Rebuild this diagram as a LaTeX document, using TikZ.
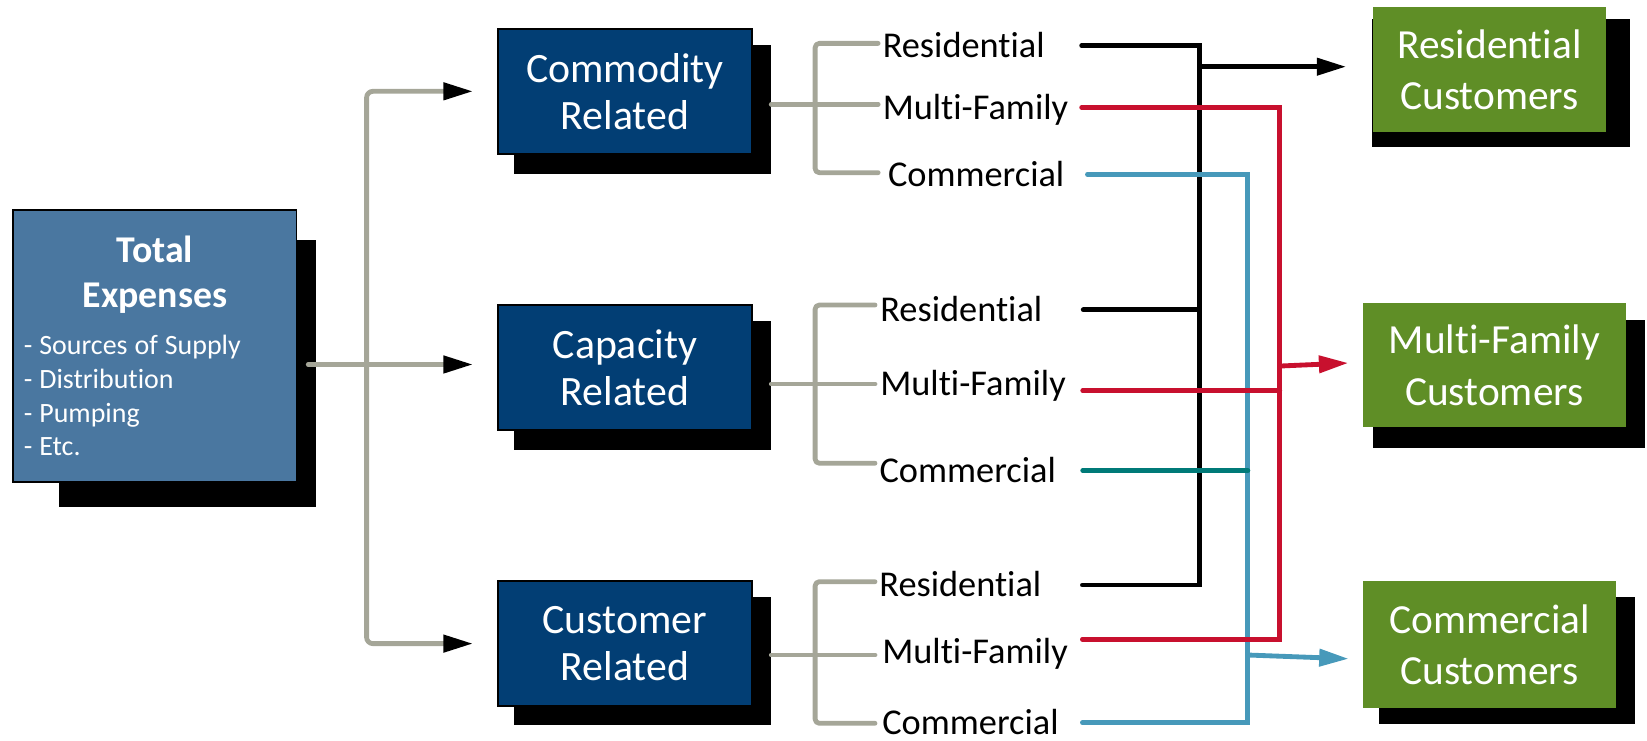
\documentclass[tikz,border=0pt]{standalone}
\usepackage{fontspec}
\setmainfont{Carlito}[Ligatures={NoCommon}]
\usetikzlibrary{arrows.meta,calc,backgrounds}
\definecolor{navy}{HTML}{023E74}
\definecolor{steel}{HTML}{4A77A0}
\definecolor{leaf}{HTML}{5F8E26}
\definecolor{crim}{HTML}{C8102E}
\definecolor{sky}{HTML}{4799BA}
\definecolor{tealc}{HTML}{007A78}
\definecolor{grayc}{HTML}{A5A698}
\begin{document}
\begin{tikzpicture}[x=0.5pt,y=-0.5pt,
  midbox/.style={draw=black, line width=0.8pt, fill=navy, text=white, minimum width=121pt,
    minimum height=59.6pt, inner sep=0pt, align=center, font=\fontsize{19.9pt}{22.2pt}\selectfont},
  custbox/.style={fill=leaf, text=white, inner sep=0pt, align=center, font=\fontsize{19.7pt}{24.5pt}\selectfont},
  totbox/.style={draw=black, line width=0.8pt, fill=steel, text=white, text width=124.85pt,
    inner xsep=5pt, inner ysep=0pt, minimum height=129.3pt, align=left},
  lbl/.style={inner sep=0pt, anchor=west, text height=11.1pt, text depth=0pt,
    font=\fontsize{17.3pt}{20pt}\selectfont, align=left},
  gline/.style={draw=grayc, line width=2.3pt, line cap=round, line join=round, rounded corners=2pt},
  garr/.style={draw=grayc, line width=2.3pt, line join=round, rounded corners=3pt,
    -{Triangle[length=14pt,width=8pt,color=black]}, shorten >=11.5pt},
  cline/.style={line width=2.3pt, line cap=round, line join=miter},
  carr/.style={line width=2.3pt, -{Triangle[length=14pt,width=8pt]}},
  shadowfill/.style={fill=black}
]
\useasboundingbox (0,0) rectangle (1568,705);

% boxes
\node[totbox] (total) at (147.55,329.3) {{\centering\fontsize{18pt}{21.3pt}\bfseries\selectfont Total\\Expenses\par}\vspace{6.7pt}{\fontsize{13.3pt}{16pt}\selectfont - Sources of Supply\\- Distribution\\- Pumping\\- Etc.\par}};
\node[midbox] (comm) at (595,86.95) {Commodity\\Related};
\node[midbox] (capa) at (595,349.9) {Capacity\\Related};
\node[midbox] (cust) at (595,612.75) {Customer\\Related};
\node[custbox, minimum width=111.3pt, minimum height=59.2pt] (rc) at (1418,66.2) {Residential\\Customers};
\node[custbox, minimum width=125.1pt, minimum height=59pt] (mf) at (1422.7,347.8) {Multi-Family\\Customers};
\node[custbox, minimum width=120.45pt, minimum height=60.65pt] (cc) at (1418.05,613.65) {Commercial\\Customers};

% shadows
\begin{scope}[on background layer]
\fill[shadowfill] ([shift={(43.8,29.4)}]total.north west) rectangle ([shift={(17.6,22.9)}]total.south east);
\fill[shadowfill] ([shift={(16,16)}]comm.north west) rectangle ([shift={(17.5,18.5)}]comm.south east);
\fill[shadowfill] ([shift={(16,16)}]capa.north west) rectangle ([shift={(17.5,18.5)}]capa.south east);
\fill[shadowfill] ([shift={(16,16)}]cust.north west) rectangle ([shift={(17.5,17)}]cust.south east);
\fill[shadowfill] ([shift={(0.3,11.4)}]rc.north west) rectangle ([shift={(21.7,14.2)}]rc.south east);
\fill[shadowfill] ([shift={(10.4,15.9)}]mf.north west) rectangle ([shift={(18.2,19.1)}]mf.south east);
\fill[shadowfill] ([shift={(15.2,15.7)}]cc.north west) rectangle ([shift={(17.9,15)}]cc.south east);
\end{scope}

% labels
\node[lbl, text width=94.5pt] (lTR) at (840,43.6) {Residential};
\node[lbl, text width=94.5pt] (lTM) at (840,102.3) {Multi-Family};
\node[lbl, text width=94.75pt] (lTC) at (845,166) {Commercial};
\node[lbl, text width=96.4pt] (lMR) at (837.7,295) {Residential};
\node[lbl, text width=96.15pt] (lMM) at (837.7,365) {Multi-Family};
\node[lbl, text width=96.5pt] (lMC) at (837,448) {Commercial};
\node[lbl, text width=96.45pt] (lBR) at (836.8,557) {Residential};
\node[lbl, text width=95.05pt] (lBM) at (839.6,620.5) {Multi-Family};
\node[lbl, text width=95.05pt] (lBC) at (839.6,688) {Commercial};

% coordinates
\coordinate (tstub) at (293.5,347);
\coordinate (hub) at (349,347);
\coordinate (gv) at (776,0);
\coordinate (g1r) at (836,41.3);
\coordinate (g1m) at (836,99.3);
\coordinate (g1c) at (836,164.4);
\coordinate (g2r) at (833,290.4);
\coordinate (g2m) at (833,365.6);
\coordinate (g2c) at (833,441);
\coordinate (g3r) at (833,553.8);
\coordinate (g3m) at (833,623.6);
\coordinate (g3c) at (833,688.6);
\coordinate (bx) at (1141.7,0);
\coordinate (ux) at (1188,0);
\coordinate (rx) at (1218.3,0);

% gray connectors from total
\draw[gline] (tstub) -- (hub);
\draw[garr] (hub) -- (hub -| capa.west);
\draw[garr] (hub) |- (comm.west);
\draw[garr] (hub) |- (cust.west);

% gray brackets
\draw[gline] ([xshift=8.75pt]comm.east |- g1m) -- (g1m);
\draw[gline] (g1r) -- (g1r -| gv) -- (g1c -| gv) -- (g1c);
\draw[gline] ([xshift=8.75pt]capa.east |- g2m) -- (g2m);
\draw[gline] (g2r) -- (g2r -| gv) -- (g2c -| gv) -- (g2c);
\draw[gline] ([xshift=8.75pt]cust.east |- g3m) -- (g3m);
\draw[gline] (g3r) -- (g3r -| gv) -- (g3c -| gv) -- (g3c);

% black (residential)
\draw[cline, draw=black] (lTR.east) -- (lTR.east -| bx) -- (lBR.east -| bx) -- (lBR.east);
\draw[cline, draw=black] (lMR.east) -- (lMR.east -| bx);
\draw[carr, draw=black, shorten >=12.35pt] ($(rc.west -| bx)+(0,-2.7)$) -- ($(rc.west)+(0,-2.7)$);

% blue (commercial)
\draw[cline, draw=sky] (lTC.east) -- (lTC.east -| ux) -- (lBC.east -| ux) -- (lBC.east);
\draw[cline, draw=tealc] (lMC.east) -- (lMC.east -| ux);
\draw[carr, draw=sky, shorten >=6.65pt] ($(cc.west -| ux)+(0,9.95)$) -- ($(cc.west)+(0,14)$);

% red (multi-family)
\draw[cline, draw=crim] (lTM.east) -- (lTM.east -| rx) -- ($(lBM.east -| rx)+(0,-12)$) -- ($(lBM.east)+(0,-12)$);
\draw[cline, draw=crim] ($(lMM.east)+(0,7)$) -- ($(lMM.east -| rx)+(0,7)$);
\draw[carr, draw=crim, shorten >=6.8pt] ($(mf.west -| rx)+(0,0.7)$) -- ($(mf.west)+(0,-2.8)$);
\end{tikzpicture}
\end{document}
